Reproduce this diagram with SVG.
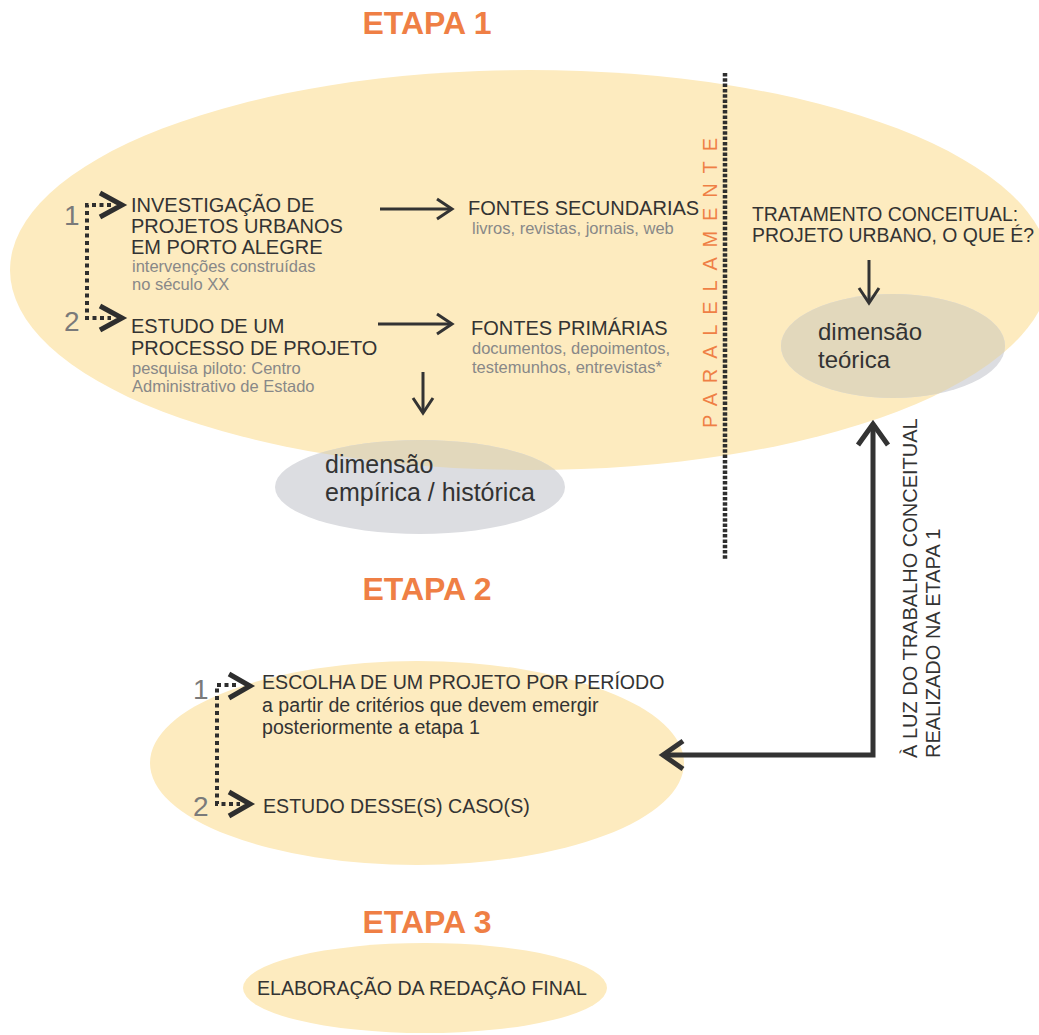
<svg xmlns="http://www.w3.org/2000/svg" width="1039" height="1035" viewBox="0 0 1039 1035">
<defs>
<style>
.t{font-family:"Liberation Sans",Arial,sans-serif;}
.title{font-family:"Liberation Sans",Arial,sans-serif;font-weight:bold;font-size:32px;fill:#ef7f45;text-anchor:middle;}
.h{font-size:20px;fill:#333;}
.h19{font-size:19.4px;fill:#333;}
.h195{font-size:19.6px;fill:#333;}
.s{font-size:16.5px;fill:#888;}
.num{font-size:28px;fill:#7a7a7a;}
.dim{font-size:24px;fill:#333;}
.dim25{font-size:25px;fill:#333;}
.yel{fill:#fdebbf;}
.grey{fill:#dcdde1;}
.tan{fill:#e2d8bc;}
.dots{fill:none;stroke:#2e2e2e;stroke-width:4;stroke-dasharray:4 3.5;}
.chev{fill:none;stroke:#2e2e2e;stroke-width:5;stroke-linejoin:miter;}
.arr{fill:none;stroke:#333;stroke-width:3;}
.big{fill:none;stroke:#333;stroke-width:5;}
</style>
<clipPath id="clipBig"><ellipse cx="530" cy="270" rx="520" ry="200"/></clipPath>
</defs>
<rect width="1039" height="1035" fill="#fff"/>

<text class="title" x="427" y="34">ETAPA 1</text>
<text class="title" x="427" y="600">ETAPA 2</text>
<text class="title" x="427" y="933">ETAPA 3</text>

<g id="etapa1">
<ellipse class="yel" cx="530" cy="270" rx="520" ry="200"/>
</g>

<g id="dim-empirica">
<ellipse class="grey" cx="420" cy="487" rx="145" ry="47"/>
<ellipse class="tan" cx="420" cy="487" rx="145" ry="47" clip-path="url(#clipBig)"/>
<text class="t dim25" x="325" y="473">dimensão</text>
<text class="t dim25" x="325" y="501">empírica / histórica</text>
</g>

<g id="dim-teorica">
<ellipse class="grey" cx="893" cy="346" rx="112" ry="52"/>
<ellipse class="tan" cx="893" cy="346" rx="112" ry="52" clip-path="url(#clipBig)"/>
<text class="t dim" x="818" y="340">dimensão</text>
<text class="t dim" x="818" y="368">teórica</text>
</g>

<g id="investigacao">
<text class="t num" x="64" y="225">1</text>
<text class="t h" x="131" y="212">INVESTIGAÇÃO DE</text>
<text class="t h" x="131" y="233">PROJETOS URBANOS</text>
<text class="t h" x="131" y="254">EM PORTO ALEGRE</text>
<text class="t s" x="132" y="272">intervenções construídas</text>
<text class="t s" x="132" y="290">no século XX</text>
</g>

<g id="estudo">
<text class="t num" x="64" y="331">2</text>
<text class="t h" x="131" y="333">ESTUDO DE UM</text>
<text class="t h" x="131" y="355">PROCESSO DE PROJETO</text>
<text class="t s" x="132" y="374">pesquisa piloto: Centro</text>
<text class="t s" x="132" y="392">Administrativo de Estado</text>
</g>

<g id="fontes-secundarias">
<text class="t h" x="468" y="215">FONTES SECUNDARIAS</text>
<text class="t s" x="472" y="234">livros, revistas, jornais, web</text>
</g>

<g id="fontes-primarias">
<text class="t h" x="471" y="335">FONTES PRIMÁRIAS</text>
<text class="t s" x="472" y="354">documentos, depoimentos,</text>
<text class="t s" x="472" y="373">testemunhos, entrevistas*</text>
</g>

<g id="tratamento">
<text class="t h19" x="752" y="221">TRATAMENTO CONCEITUAL:</text>
<text class="t h19" x="752" y="242">PROJETO URBANO, O QUE É?</text>
</g>

<g id="paralelamente">
<text class="t" transform="translate(717,428) rotate(-90)" x="0" y="0" font-size="20" fill="#ef7f45" textLength="290" lengthAdjust="spacing">PARALELAMENTE</text>
</g>

<g id="etapa2">
<ellipse class="yel" cx="417" cy="763" rx="267" ry="102"/>
<text class="t num" x="193" y="699">1</text>
<text class="t num" x="193" y="816">2</text>
<text class="t h195" x="262" y="689">ESCOLHA DE UM PROJETO POR PERÍODO</text>
<text class="t h195" x="262" y="712">a partir de critérios que devem emergir</text>
<text class="t h195" x="262" y="734">posteriormente a etapa 1</text>
<text class="t h195" x="263" y="813">ESTUDO DESSE(S) CASO(S)</text>
</g>

<g id="etapa3">
<ellipse class="yel" cx="425" cy="988" rx="182" ry="45"/>
<text class="t h195" x="257" y="995">ELABORAÇÃO DA REDAÇÃO FINAL</text>
</g>

<g id="luz-label">
<text class="t h" transform="translate(917,758) rotate(-90)" x="0" y="0">À LUZ DO TRABALHO  CONCEITUAL</text>
<text class="t h" transform="translate(940,758) rotate(-90)" x="0" y="0">REALIZADO  NA ETAPA 1</text>
</g>

<g id="connectors">
<line x1="725" y1="73" x2="725" y2="560" style="fill:none;stroke:#2e2e2e;stroke-width:4.5;stroke-dasharray:3.5 1.8"/>
<path class="dots" d="M111,205 H87 V318 H111"/>
<polyline class="chev" points="100,193 122,205 100,217"/>
<polyline class="chev" points="100,306 122,318 100,330"/>
<path class="dots" d="M236,685 H217 V804 H240"/>
<polyline class="chev" points="229,674 250,686 229,698"/>
<polyline class="chev" points="229,792 250,804 229,816"/>
<line class="arr" x1="380" y1="209" x2="451" y2="209"/>
<polyline class="arr" points="437,199 452,209 437,219"/>
<line class="arr" x1="378" y1="324" x2="451" y2="324"/>
<polyline class="arr" points="437,314 452,324 437,334"/>
<line class="arr" x1="423" y1="372" x2="423" y2="412"/>
<polyline class="arr" points="413,398 423,413 433,398"/>
<line class="arr" x1="869" y1="260" x2="869" y2="302"/>
<polyline class="arr" points="859,288 869,303 879,288"/>
<path class="big" d="M873,424 V755 H663"/>
<polyline class="big" points="858,445 873,424 888,445"/>
<polyline class="big" points="683,741 663,755 683,769"/>
</g>
</svg>
